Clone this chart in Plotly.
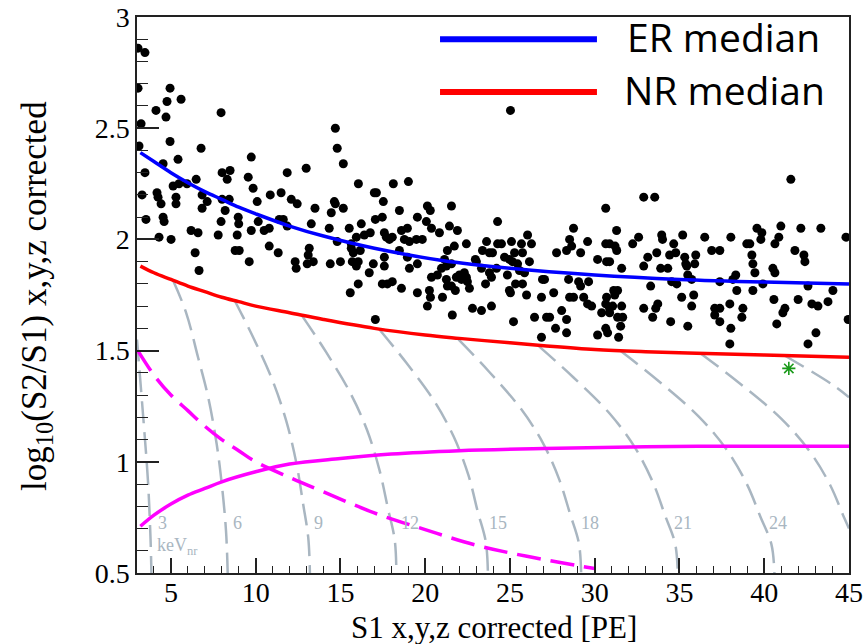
import plotly.graph_objects as go

# ---------------- data ----------------
scatter_x = [3.06, 3.47, 3.06, 4.95, 4.77, 5.60, 4.12, 3.24, 4.71, 7.96, 14.70, 14.81, 15.17, 3.12, 4.95, 6.78,
             5.42, 4.54, 9.74, 3.47, 8.02, 8.49, 8.32, 6.49, 5.95, 5.13, 5.48, 9.56, 9.85, 11.86, 12.98, 16.06,
             17.00, 3.30, 4.18, 4.24, 4.42, 5.30, 5.30, 6.84, 7.14, 8.02, 8.44, 10.09, 10.86, 11.50, 12.10, 12.45,
             13.50, 14.64, 14.70, 15.17, 6.84, 8.20, 14.46, 3.53, 4.54, 4.60, 6.19, 6.60, 7.79, 7.96, 8.97, 9.00,
             8.91, 9.74, 10.15, 10.50, 10.80, 11.39, 11.63, 11.86, 13.28, 14.34, 15.52, 16.23, 15.94, 16.41, 16.76,
             17.06, 4.30, 5.01, 6.43, 6.66, 8.79, 9.03, 9.62, 10.80, 11.33, 13.16, 13.10, 12.33, 12.39, 13.04, 13.40,
             14.40, 15.00, 14.81, 15.64, 15.64, 15.76, 16.17, 15.70, 15.94, 16.05, 16.94, 16.70, 16.05, 15.58, 17.06,
             25.03, 17.12, 18.12, 19.01, 17.53, 18.48, 20.13, 20.30, 21.55, 30.65, 17.47, 19.54, 20.07, 24.27, 20.37,
             21.43, 21.90, 20.84, 17.59, 17.71, 17.89, 18.06, 18.60, 18.77, 19.07, 19.48, 19.83, 18.95, 21.31, 21.72,
             22.43, 23.62, 24.27, 24.50, 25.09, 25.68, 26.04, 26.27, 23.38, 23.79, 23.97, 24.68, 25.27, 24.97, 25.15,
             25.45, 25.74, 26.15, 28.52, 28.75, 28.64, 28.34, 27.75, 29.17, 29.58, 30.17, 30.65, 30.70, 17.59, 17.59,
             18.48, 18.95, 19.07, 19.54, 21.14, 21.25, 21.55, 20.96, 20.37, 20.72, 21.25, 22.02, 22.31, 22.43, 22.14,
             21.84, 21.31, 21.55, 21.78, 22.49, 22.61, 22.96, 23.02, 23.32, 23.79, 23.91, 24.21, 23.56, 24.85, 25.33,
             25.74, 25.56, 25.86, 24.97, 25.03, 25.98, 26.92, 27.04, 26.86, 27.58, 28.46, 29.05, 29.17, 29.64, 28.52,
             28.75, 29.35, 29.58, 29.82, 30.41, 30.70, 30.65, 17.47, 17.77, 18.06, 18.60, 19.54, 20.25, 20.31, 21.02,
             20.13, 22.79, 23.32, 23.91, 21.60, 25.21, 26.45, 27.16, 27.34, 28.05, 27.69, 28.34, 26.86, 28.34, 30.17,
             30.65, 32.89, 33.54, 41.57, 39.57, 40.98, 42.16, 43.34, 31.29, 30.88, 31.20, 31.30, 32.59, 32.24, 33.95,
             34.00, 35.19, 36.49, 38.03, 39.86, 39.80, 40.86, 40.63, 44.82, 34.66, 34.42, 34.78, 33.66, 33.13, 32.89,
             33.89, 34.31, 35.31, 35.37, 35.43, 35.96, 35.90, 36.90, 37.38, 38.97, 39.15, 39.27, 39.33, 39.45, 40.51,
             40.63, 41.81, 42.34, 42.40, 30.88, 31.59, 35.49, 35.72, 34.54, 34.84, 37.38, 38.15, 38.32, 39.92, 33.30,
             38.38, 39.33, 42.58, 44.05, 31.12, 31.35, 31.18, 42.00, 40.57, 43.76, 42.81, 43.17, 35.13, 35.84, 35.72,
             33.72, 33.60, 32.89, 30.88, 31.06, 31.59, 30.88, 31.35, 31.65, 37.97, 38.74, 38.68, 37.08, 37.38, 37.08,
             37.38, 33.42, 34.48, 35.49, 38.03, 40.74, 41.22, 41.10, 44.95, 31.53, 30.76, 31.41, 43.05, 42.58, 37.97]
scatter_y = [2.86, 2.84, 2.68, 2.68, 2.62, 2.63, 2.58, 2.52, 2.55, 2.57, 2.50, 2.41, 2.34, 2.42, 2.44, 2.41,
             2.36, 2.34, 2.37, 2.30, 2.30, 2.31, 2.27, 2.27, 2.25, 2.24, 2.25, 2.28, 2.23, 2.30, 2.32, 2.25,
             2.21, 2.20, 2.21, 2.19, 2.16, 2.19, 2.16, 2.20, 2.17, 2.18, 2.18, 2.17, 2.20, 2.21, 2.18, 2.16,
             2.14, 2.17, 2.16, 2.14, 2.14, 2.13, 2.12, 2.09, 2.10, 2.08, 2.04, 2.03, 2.02, 2.08, 2.10, 2.07,
             2.02, 2.04, 2.08, 2.04, 2.05, 2.09, 2.09, 2.06, 2.07, 2.05, 2.05, 2.07, 2.01, 2.02, 2.03,
             2.09, 2.01, 2.00, 1.94, 1.86, 1.95, 1.95, 1.90, 1.97, 1.94, 1.96, 1.93, 1.90, 1.87, 1.89, 1.90,
             1.89, 1.90, 1.99, 1.98, 1.96, 1.94, 1.95, 1.90, 1.88, 1.90, 1.89, 1.85, 1.80, 1.76, 1.64,
             2.58, 2.21, 2.25, 2.26, 2.17, 2.13, 2.15, 2.13, 2.15, 2.14, 2.10, 2.10, 2.08, 2.08, 2.05,
             2.06, 2.04, 2.03, 2.03, 2.01, 2.00, 2.01, 2.04, 2.00, 1.99, 2.00, 2.00, 2.05, 1.95, 1.97,
             1.98, 1.99, 1.98, 1.98, 1.99, 1.98, 2.02, 1.98, 1.95, 1.94, 1.94, 1.92, 1.94, 1.91, 1.90,
             1.89, 1.94, 1.90, 2.00, 2.05, 1.97, 1.95, 1.94, 1.94, 1.99, 1.91, 1.98, 1.90, 1.88, 1.92,
             1.95, 1.92, 1.87, 1.89, 1.91, 1.88, 1.89, 1.87, 1.83, 1.84, 1.82, 1.84, 1.85, 1.83, 1.82,
             1.83, 1.79, 1.79, 1.77, 1.81, 1.78, 1.91, 1.90, 1.87, 1.85, 1.83, 1.87, 1.80, 1.84, 1.80,
             1.80, 1.86, 1.85, 1.77, 1.76, 1.75, 1.82, 1.82, 1.74, 1.76, 1.82, 1.81, 1.79, 1.81, 1.74,
             1.74, 1.74, 1.71, 1.70, 1.67, 1.74, 1.71, 1.80, 1.80, 1.81, 1.78, 1.76, 1.77, 1.74, 1.74,
             1.70, 1.69, 1.68, 1.70, 1.66, 1.63, 1.65, 1.65, 1.65, 1.68, 1.60, 1.64, 1.56, 1.58, 1.57,
             1.60, 2.19, 2.19, 2.27, 2.05, 2.06, 2.05, 2.05, 2.04, 1.98, 1.97, 1.95, 2.01, 1.98, 2.02,
             2.00, 2.02, 2.01, 2.01, 2.03, 2.00, 2.01, 1.98, 2.01, 1.98, 1.93, 1.94, 1.94, 1.92, 1.88,
             1.87, 1.87, 1.92, 1.89, 1.88, 1.93, 1.89, 1.95, 1.95, 1.98, 1.98, 1.93, 1.89, 1.85, 1.87,
             1.85, 1.95, 1.93, 1.90, 1.90, 1.87, 1.84, 1.82, 1.81, 1.80, 1.81, 1.82, 1.84, 1.80, 1.79,
             1.77, 1.77, 1.79, 1.77, 1.77, 1.77, 1.75, 1.73, 1.73, 1.72, 1.71, 1.70, 1.74, 1.75, 1.70,
             1.71, 1.69, 1.69, 1.69, 1.70, 1.70, 1.67, 1.65, 1.65, 1.71, 1.69, 1.65, 1.69, 1.69, 1.66,
             1.63, 1.65, 1.63, 1.61, 1.60, 1.62, 1.69, 1.67, 1.64, 1.61, 1.58, 1.56, 1.58, 1.53, 1.53]

er_x = [3.2, 4, 5, 6, 7, 8, 9, 10, 12, 14, 17, 21, 25, 30, 35, 40, 45]
er_y = [2.39, 2.35, 2.30, 2.255, 2.215, 2.18, 2.145, 2.115, 2.06, 2.015, 1.96, 1.905, 1.87, 1.84, 1.82, 1.808, 1.80]

nr_x = [3.2, 4, 5, 6, 7, 8, 9, 10, 12, 14, 17, 20, 22, 25, 27, 30, 33, 36, 40, 45]
nr_y = [1.88, 1.85, 1.82, 1.79, 1.765, 1.74, 1.72, 1.70, 1.67, 1.64, 1.60, 1.57, 1.555, 1.535, 1.522, 1.505, 1.495, 1.488, 1.48, 1.47]

mag_solid_x = [3.2, 4, 5, 6, 7, 8, 10, 12, 15, 18, 22, 27, 33, 40, 45]
mag_solid_y = [0.71, 0.76, 0.81, 0.85, 0.88, 0.91, 0.955, 0.99, 1.015, 1.035, 1.05, 1.06, 1.068, 1.07, 1.07]

mag_dash_x = [3.05, 4, 5, 6, 7, 8, 9, 10, 12, 14, 17, 20, 23, 26, 30]
mag_dash_y = [1.50, 1.39, 1.30, 1.23, 1.16, 1.10, 1.05, 1.00, 0.93, 0.865, 0.77, 0.695, 0.625, 0.575, 0.52]

# keV_nr contour lines (energy -> points)
kev_x = {
    3:  [3.0, 3.18, 3.42, 3.65, 3.80, 3.85],
    6:  [5.13, 5.9, 6.6, 7.2, 7.7, 8.0, 8.25, 8.35],
    9:  [8.73, 9.85, 11.0, 11.8, 12.4, 12.8, 13.1, 13.2],
    12: [12.75, 14.14, 15.58, 16.57, 17.3, 17.8, 18.2, 18.3],
    15: [17.3, 18.9, 20.56, 21.7, 22.55, 23.1, 23.57, 23.7],
    18: [21.96, 23.77, 25.65, 26.94, 27.9, 28.55, 29.06, 29.2],
    21: [26.7, 28.75, 30.88, 32.34, 33.42, 34.16, 34.74, 34.9],
    24: [31.5, 33.78, 36.14, 37.76, 38.96, 39.78, 40.42, 40.6],
    27: [36.25, 38.58, 41.0, 42.65, 43.88, 44.71, 45.0],
    30: [41.2, 44.1, 45.0],
}
kev_y = {
    3:  [1.55, 1.38, 1.15, 0.91, 0.65, 0.50],
    6:  [1.815, 1.67, 1.47, 1.29, 1.08, 0.90, 0.69, 0.50],
    9:  [1.73, 1.56, 1.365, 1.185, 0.995, 0.81, 0.66, 0.50],
    12: [1.655, 1.495, 1.31, 1.143, 0.964, 0.791, 0.65, 0.50],
    15: [1.595, 1.444, 1.27, 1.11, 0.94, 0.776, 0.642, 0.50],
    18: [1.55, 1.405, 1.238, 1.085, 0.922, 0.765, 0.636, 0.50],
    21: [1.52, 1.379, 1.217, 1.068, 0.91, 0.757, 0.633, 0.50],
    24: [1.50, 1.362, 1.203, 1.057, 0.902, 0.752, 0.63, 0.50],
    27: [1.487, 1.351, 1.194, 1.05, 0.897, 0.749, 0.70],
    30: [1.478, 1.343, 1.29],
}
kev_labels = ["3", "6", "9", "12", "15", "18", "21", "24"]
kev_label_x = [4.5, 8.95, 13.7, 19.1, 24.3, 29.7, 35.2, 40.8]
kev_label_y = 0.725

star_x = [41.45]
star_y = [1.42]

x_ticks = [5, 10, 15, 20, 25, 30, 35, 40, 45]
y_ticks = [0.5, 1, 1.5, 2, 2.5, 3]
y_ticktext = ["0.5", "1", "1.5", "2", "2.5", "3"]

# ---------------- figure ----------------
GRAY = "#a9b6c1"
SERIF = "Liberation Serif, Times New Roman, serif"
fig = go.Figure()

for e in kev_x:
    fig.add_trace(go.Scatter(x=kev_x[e], y=kev_y[e], mode="lines", line_shape="spline",
                             line=dict(color=GRAY, width=2.5, dash="22px,9px"),
                             showlegend=False, hoverinfo="skip"))

fig.add_trace(go.Scatter(x=mag_dash_x, y=mag_dash_y, mode="lines", line_shape="spline",
                         line=dict(color="#ff00ff", width=3.5, dash="24px,10px"), showlegend=False))
fig.add_trace(go.Scatter(x=mag_solid_x, y=mag_solid_y, mode="lines", line_shape="spline",
                         line=dict(color="#ff00ff", width=3.5), showlegend=False))

fig.add_trace(go.Scatter(x=scatter_x, y=scatter_y, mode="markers",
                         marker=dict(color="black", size=9, line=dict(width=0)), showlegend=False))

fig.add_trace(go.Scatter(x=er_x, y=er_y, mode="lines", line_shape="spline",
                         line=dict(color="#0000ff", width=3.5), name="ER median", showlegend=False))
fig.add_trace(go.Scatter(x=nr_x, y=nr_y, mode="lines", line_shape="spline",
                         line=dict(color="#ff0000", width=3.5), name="NR median", showlegend=False))

fig.add_trace(go.Scatter(x=star_x, y=star_y, mode="markers",
                         marker=dict(symbol="asterisk-open", size=11, color="#1a9a1a",
                                     line=dict(color="#1a9a1a", width=1.6)), showlegend=False))

annotations = []
for lab, lx in zip(kev_labels, kev_label_x):
    annotations.append(dict(x=lx, y=kev_label_y, xref="x", yref="y", text=lab, showarrow=False,
                            font=dict(family=SERIF, size=18, color=GRAY)))
annotations.append(dict(x=5.4, y=0.62, xref="x", yref="y", text="keV<sub>nr</sub>", showarrow=False,
                        font=dict(family=SERIF, size=18, color=GRAY)))

# legend (drawn manually)
annotations.append(dict(x=0.686, y=0.965, xref="paper", yref="paper", text="ER median", showarrow=False,
                        xanchor="left", yanchor="middle", font=dict(family="Open Sans", size=39, color="black")))
annotations.append(dict(x=0.681, y=0.869, xref="paper", yref="paper", text="NR median", showarrow=False,
                        xanchor="left", yanchor="middle", font=dict(family="Open Sans", size=39, color="black")))

# axis titles
annotations.append(dict(x=-0.142, y=0.498, xref="paper", yref="paper",
                        text="log<sub>10</sub>(S2/S1) x,y,z corrected", textangle=-90, showarrow=False,
                        xanchor="center", yanchor="middle", font=dict(family=SERIF, size=35, color="black")))
annotations.append(dict(x=0.502, y=-0.098, xref="paper", yref="paper",
                        text="S1 x,y,z corrected [PE]", showarrow=False,
                        xanchor="center", yanchor="middle", font=dict(family=SERIF, size=31, color="black")))

shapes = [
    dict(type="line", xref="paper", yref="paper", x0=0.4256, x1=0.646, y0=0.96, y1=0.96,
         line=dict(color="#0000ff", width=6)),
    dict(type="line", xref="paper", yref="paper", x0=0.4256, x1=0.646, y0=0.865, y1=0.865,
         line=dict(color="#ff0000", width=6)),
]

fig.update_layout(
    width=865, height=644,
    margin=dict(l=137, r=16, t=17, b=71),
    paper_bgcolor="white", plot_bgcolor="white",
    annotations=annotations, shapes=shapes,
    xaxis=dict(range=[3, 45], tickvals=x_ticks, ticks="inside", ticklen=15, tickwidth=1.5, tickcolor="#222",
               minor=dict(dtick=1, ticks="inside", ticklen=7, tickwidth=1.2, tickcolor="#222"),
               showline=True, linecolor="#222", linewidth=1.5, mirror=True, showgrid=False, zeroline=False,
               automargin=False, ticklabelstandoff=-6,
               tickfont=dict(family=SERIF, size=28, color="black")),
    yaxis=dict(range=[0.5, 3], tickvals=y_ticks, ticktext=y_ticktext,
               ticks="inside", ticklen=22, tickwidth=1.5, tickcolor="#222",
               minor=dict(dtick=0.1, ticks="inside", ticklen=11, tickwidth=1.2, tickcolor="#222"),
               showline=True, linecolor="#222", linewidth=1.5, mirror=True, showgrid=False, zeroline=False,
               automargin=False, tickfont=dict(family=SERIF, size=28, color="black")),
)

fig.write_html("out.html")
